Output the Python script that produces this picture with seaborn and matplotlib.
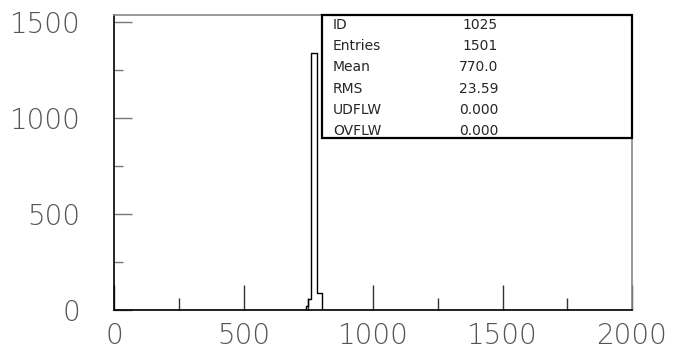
import matplotlib
matplotlib.use("Agg")
import matplotlib.pyplot as plt
import pandas as pd
import seaborn as sns

# --- Data ---
X_MIN, X_MAX = 0, 2000
bin_edges = [0, 740, 750, 762, 782, 802, 2000]
bin_centers = [370, 745, 756, 772, 792, 1401]
bin_counts = [0, 20, 57, 1338, 86, 0]

stat_names = ["ID", "Entries", "Mean", "RMS", "UDFLW", "OVFLW"]
stat_values = ["1025", "1501", "770.0", "23.59", "0.000", "0.000"]

x_ticks = [0, 500, 1000, 1500, 2000]
y_ticks = [0, 500, 1000, 1500]

W, H = 677, 353

# --- Style ---
sns.set_theme(style="white")
plt.rcParams["font.family"] = ["DejaVu Sans"]

fig = plt.figure(figsize=(W / 100, H / 100), dpi=100)
left, right, top, bottom = 114, 632, 15, 310
ax = fig.add_axes([left / W, (H - bottom) / H, (right - left) / W, (bottom - top) / H])

df = pd.DataFrame({"x": bin_centers, "n": bin_counts})
sns.histplot(data=df, x="x", weights="n", bins=bin_edges, element="step",
             fill=False, color="black", linewidth=1.0, ax=ax)

ax.set_xlim(X_MIN, X_MAX)
ax.set_ylim(0, 1536)
ax.set_xlabel("")
ax.set_ylabel("")

ax.set_xticks(x_ticks)
ax.set_xticks([250, 750, 1250, 1750], minor=True)
ax.set_yticks(y_ticks)
ax.set_yticks([250, 750, 1250], minor=True)

label_kw = dict(fontsize=20, color="#555555", fontweight="light")
ax.set_xticklabels([str(t) for t in x_ticks], **label_kw)
ax.set_yticklabels([str(t) for t in y_ticks], **label_kw)

ax.tick_params(axis="x", which="major", direction="in", length=18, width=1,
               color="#333333", pad=9, bottom=True)
ax.tick_params(axis="x", which="minor", direction="in", length=9, width=1,
               color="#333333", bottom=True)
ax.tick_params(axis="y", which="major", direction="in", length=13, width=1,
               color="#777777", pad=24, left=True)
ax.tick_params(axis="y", which="minor", direction="in", length=6.5, width=1,
               color="#777777", left=True)

for side, col in [("left", "black"), ("bottom", "black"),
                  ("top", "#888888"), ("right", "#888888")]:
    ax.spines[side].set_color(col)
    ax.spines[side].set_linewidth(1.2)

# --- Statistics box ---
bx0, bx1, by0, by1 = 322, 632, 15, 138
box = plt.Rectangle((bx0 / W, (H - by1) / H), (bx1 - bx0) / W, (by1 - by0) / H,
                    transform=fig.transFigure, fill=True, facecolor="white",
                    edgecolor="black", linewidth=1.6, zorder=5)
fig.patches.append(box)

row_y0, row_step = 25, 21.2
for i, (name, val) in enumerate(zip(stat_names, stat_values)):
    yy = (H - (row_y0 + i * row_step)) / H
    fig.text(333 / W, yy, name, fontsize=10, va="center", ha="left", zorder=6)
    fig.text(498 / W, yy, val, fontsize=10, va="center", ha="right", zorder=6)

fig.savefig("out.png", dpi=100, facecolor="white")
